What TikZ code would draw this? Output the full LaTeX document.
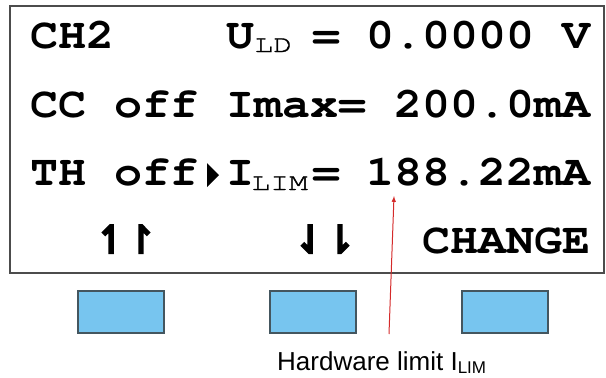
\documentclass[tikz,border=0pt]{standalone}
\usepackage{fontspec}
\setmainfont{Liberation Sans}
\newfontfamily\lcdfont[FakeStretch=1.085,Ligatures=NoCommon]{texgyrecursor-bold.otf}
\newfontfamily\subfont[FakeStretch=1.3,FakeBold=1.5,Ligatures=NoCommon]{texgyrecursor-regular.otf}
\newfontfamily\arrfont[FakeBold=6]{DejaVu Sans}
\usetikzlibrary{arrows}
\definecolor{keyblue}{HTML}{77C5EF}
\definecolor{keyedge}{HTML}{44565F}
\definecolor{pointer}{HTML}{D42A2A}
\tikzset{
 lcd/.style={font=\lcdfont\fontsize{43}{43}\selectfont,anchor=base west,inner sep=0pt},
 lcdsub/.style={font=\subfont\fontsize{24}{24}\selectfont,anchor=base west,inner sep=0pt},
 harp/.style={font=\arrfont\fontsize{38}{38}\selectfont,anchor=base west,inner sep=0pt},
 key/.style={draw=keyedge,fill=keyblue,line width=1.3pt,minimum width=86pt,minimum height=42pt,inner sep=0pt},
}
\begin{document}
\begin{tikzpicture}[x=1pt,y=-1pt]
 \useasboundingbox (0,0) rectangle (606,378);
 \draw [line width=1.3pt,black!70] (10,6) rectangle (604,273);
 % display lines, one column = 28pt
 \node[lcd] (R1a) at (30,48) {CH2};
 \node[lcd] (R1b) at (226,48) {U};
 \node[lcdsub] (R1c) at ([yshift=-4pt]R1b.base east) {LD};
 \node[lcd] (R1d) at (312,48) {=};
 \node[lcd] (R1e) at (366,48) {0.0000};
 \node[lcd] (R1f) at (562,48) {V};
 \node[lcd] (R2a) at (30,117) {CC};
 \node[lcd] (R2b) at (114,117) {off};
 \node[lcd] (R2c) at (226,117) {Imax=};
 \node[lcd] (R2d) at (394,117) {200.0mA};
 \node[lcd] (R3a) at (30,185) {TH};
 \node[lcd] (R3b) at (114,185) {off};
 \fill (207,163) -- (219,175) -- (207,187) -- cycle;
 \node[lcd] (R3c) at (226,185) {I};
 \node[lcdsub] (R3d) at ([xshift=-3pt,yshift=-5pt]R3c.base east) {LIM};
 \node[lcd] (R3e) at (312,185) {=};
 \node[lcd] (R3f) at (366,185) {188.22mA};
 \node[harp] (R4a) at (95,253) {↿\kern-2pt↾};
 \node[harp] (R4b) at (294,253) {⇃\kern-2pt⇂};
 \node[lcd] (R4c) at (422,253) {CHANGE};
 % keys
 \node[key] (K1) at (121,312) {};
 \node[key] (K2) at (313,312) {};
 \node[key] (K3) at (505,312) {};
 % pointer
 \node[anchor=base west,inner sep=0pt,font=\fontsize{26}{26}\selectfont] (hw) at (277,370) {Hardware limit I\raisebox{-3pt}{\fontsize{17}{17}\selectfont LIM}};
 \coordinate (tail) at (389,334);
 \coordinate (tip) at (394,196);
 \draw [pointer,line width=1pt,-latex] (tail) -- (tip);
\end{tikzpicture}
\end{document}
